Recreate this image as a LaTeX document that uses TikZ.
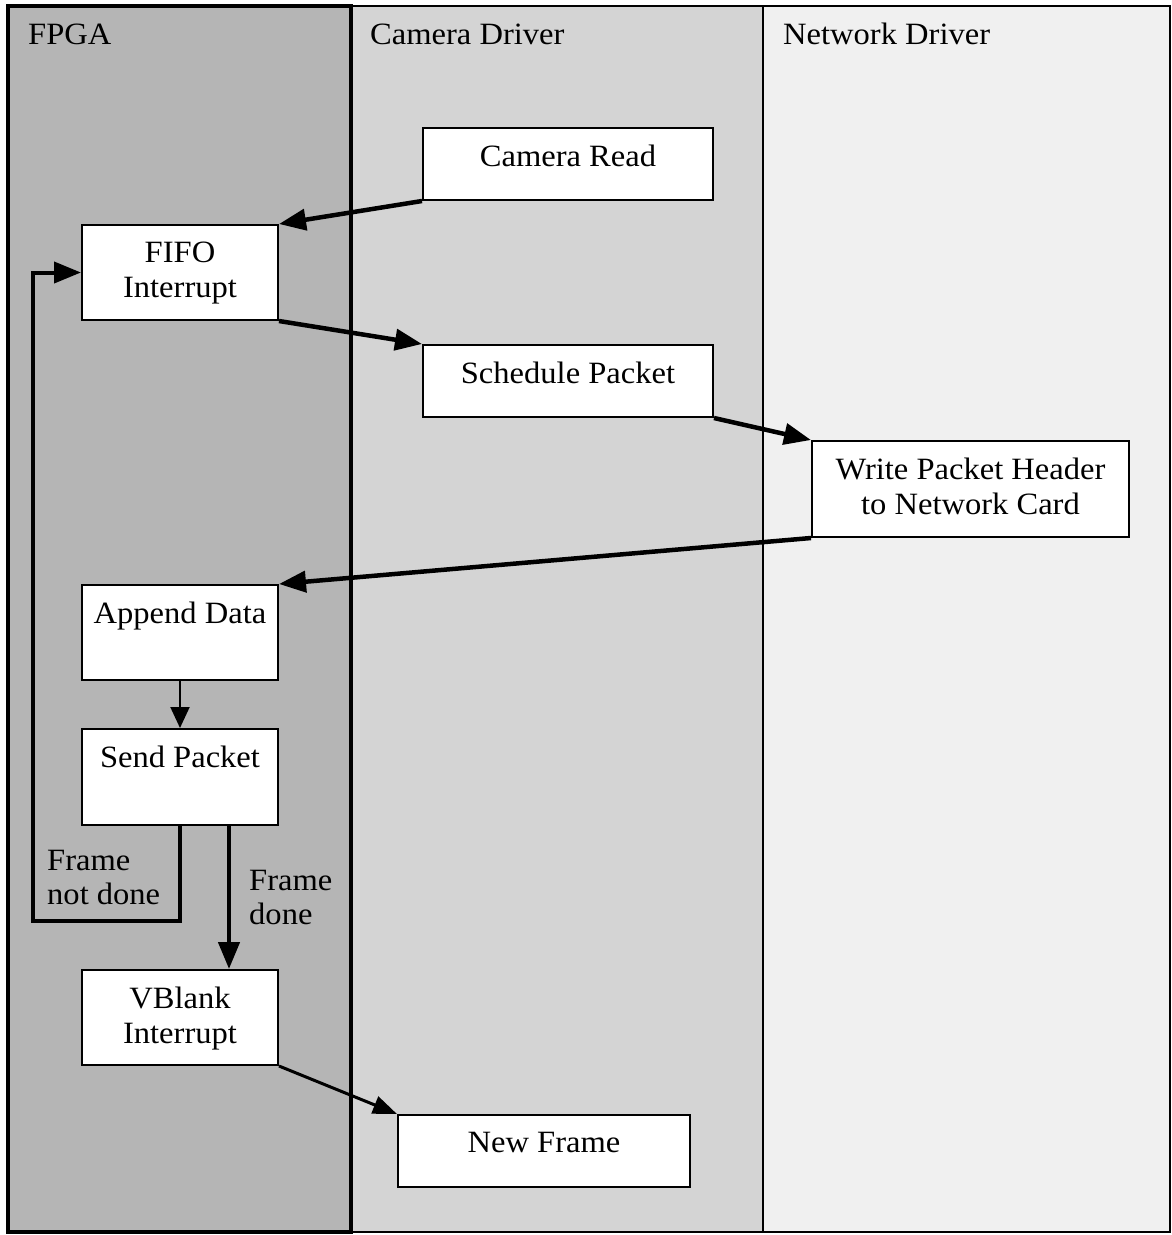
\documentclass[tikz,border=0pt]{standalone}
\usepackage{fontspec}
\setmainfont[FakeStretch=1.05]{Liberation Serif}
\usetikzlibrary{arrows.meta}
\definecolor{fpgafill}{gray}{0.71}
\definecolor{camfill}{gray}{0.83}
\definecolor{netfill}{gray}{0.94}
\begin{document}
\begin{tikzpicture}[x=1pt,y=-1pt,
  box/.style={draw=black, line width=2pt, fill=white, rectangle, inner sep=0pt},
  txt/.style={font=\fontsize{31}{35}\selectfont, align=center, inner sep=0pt, anchor=north},
  note/.style={font=\fontsize{31}{34}\selectfont, align=left, inner sep=0pt, anchor=north west},
  head/.style={font=\fontsize{31}{35}\selectfont, inner sep=0pt, anchor=base west},
  flow/.style={line width=4.5pt, -{Triangle[length=27pt,width=21pt]}},
  thinflow/.style={line width=2pt, -{Triangle[length=21pt,width=19pt]}},
  midflow/.style={line width=3pt, -{Triangle[length=24pt,width=18pt]}}
]
\useasboundingbox (0,0) rectangle (1171,1235);
\fill[white] (0,0) rectangle (1171,1235);

% swim lanes
\fill[fpgafill] (8,6) rectangle (351,1232);
\fill[camfill] (351,6) rectangle (763,1232);
\fill[netfill] (763,6) rectangle (1170,1232);
\draw[line width=1.5pt] (8,6) rectangle (1170,1232);
\draw[line width=1.5pt] (763,6) -- (763,1232);
\draw[line width=3.5pt] (8,6) rectangle (351,1232);

\node[head] (hfpga) at (28,44) {FPGA};
\node[head] (hcam) at (370,44) {Camera Driver};
\node[head] (hnet) at (783,44) {Network Driver};

% process boxes
\node[box, minimum width=290pt, minimum height=72pt] (cread) at (568,164) {};
\node[box, minimum width=196pt, minimum height=95pt] (fifo) at (180,272.5) {};
\node[box, minimum width=290pt, minimum height=72pt] (sched) at (568,381) {};
\node[box, minimum width=317pt, minimum height=96pt] (write) at (970.5,489) {};
\node[box, minimum width=196pt, minimum height=95pt] (append) at (180,632.5) {};
\node[box, minimum width=196pt, minimum height=96pt] (send) at (180,777) {};
\node[box, minimum width=196pt, minimum height=95pt] (vblank) at (180,1017.5) {};
\node[box, minimum width=292pt, minimum height=72pt] (newf) at (544,1151) {};

\node[txt] (tcread) at ([yshift=-18pt]cread.north) {Camera Read};
\node[txt] (tfifo) at ([yshift=-18pt]fifo.north) {FIFO\\Interrupt};
\node[txt] (tsched) at ([yshift=-18pt]sched.north) {Schedule Packet};
\node[txt] (twrite) at ([yshift=-18pt]write.north) {Write Packet Header\\to Network Card};
\node[txt] (tappend) at ([yshift=-18pt]append.north) {Append Data};
\node[txt] (tsend) at ([yshift=-18pt]send.north) {Send Packet};
\node[txt] (tvblank) at ([yshift=-18pt]vblank.north) {VBlank\\Interrupt};
\node[txt] (tnewf) at ([yshift=-18pt]newf.north) {New Frame};

% connectors
\draw[flow] (cread.south west) -- (fifo.north east);
\draw[flow] (fifo.south east) -- (sched.north west);
\draw[flow] (sched.south east) -- (write.north west);
\draw[flow] (write.south west) -- (append.north east);
\draw[thinflow] (append.south) -- (send.north);
\coordinate (loop) at (33,921);
\draw[flow, line width=4pt] (send.south) |- (loop) |- (fifo.west);
\draw[flow] ([xshift=49pt]send.south) -- ([xshift=49pt]vblank.north);
\draw[midflow] (vblank.south east) -- (newf.north west);

\node[note] (lnot) at (47,850) {Frame\\not done};
\node[note] (ldone) at (249,870) {Frame\\done};
\end{tikzpicture}
\end{document}
